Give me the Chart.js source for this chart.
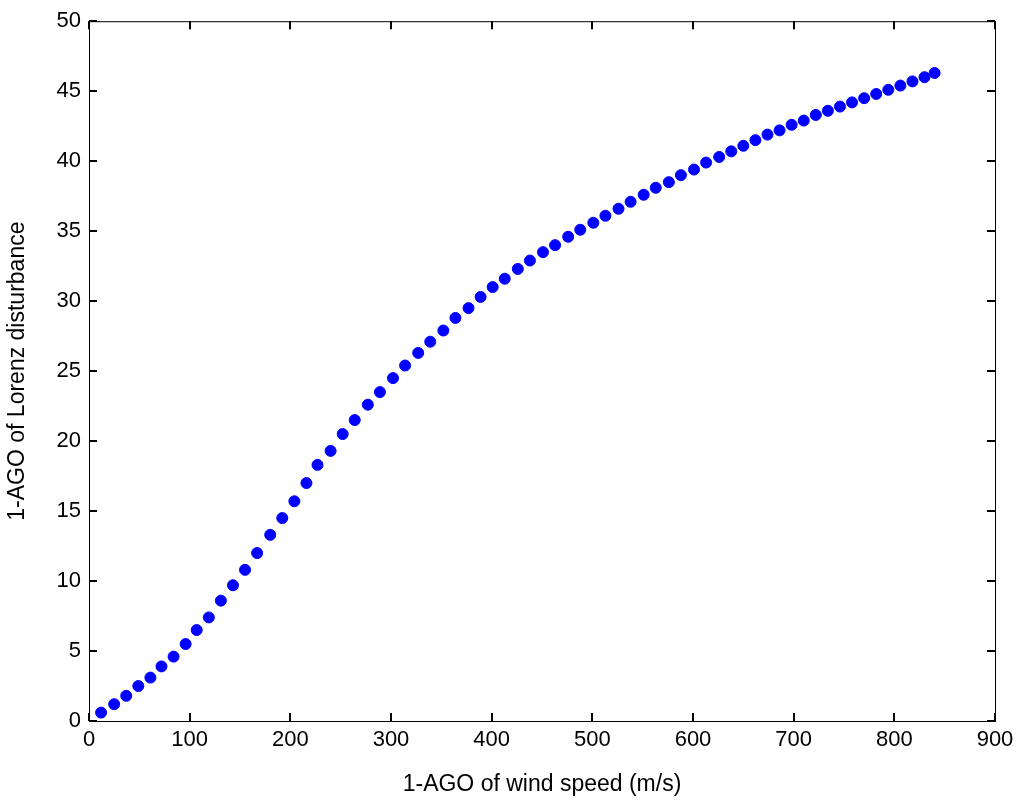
<!DOCTYPE html>
<html>
<head>
<meta charset="utf-8">
<script src="https://cdn.jsdelivr.net/npm/chart.js@4/dist/chart.umd.min.js"></script>
<style>
  html, body { margin: 0; padding: 0; background: #fff; }
  #wrap { width: 1024px; height: 802px; }
</style>
</head>
<body>
<div id="wrap"><canvas id="grafico"></canvas></div>
<script>
var xValues = [12, 25, 37, 49, 61, 72, 84, 96, 107, 119, 131, 143, 155, 167, 180, 192, 204, 216, 227, 240,
  252, 264, 277, 289, 302, 314, 327, 339, 352, 364, 377, 389, 401, 413, 426, 438, 451, 463, 476, 488,
  501, 513, 526, 538, 551, 563, 576, 588, 601, 613, 626, 638, 650, 662, 674, 686, 698, 710, 722, 734,
  746, 758, 770, 782, 794, 806, 818, 830, 840];
var yValues = [0.6, 1.2, 1.8, 2.5, 3.1, 3.9, 4.6, 5.5, 6.5, 7.4, 8.6, 9.7, 10.8, 12.0, 13.3, 14.5, 15.7, 17.0, 18.3, 19.3,
  20.5, 21.5, 22.6, 23.5, 24.5, 25.4, 26.3, 27.1, 27.9, 28.8, 29.5, 30.3, 31.0, 31.6, 32.3, 32.9, 33.5, 34.0, 34.6, 35.1,
  35.6, 36.1, 36.6, 37.1, 37.6, 38.1, 38.5, 39.0, 39.4, 39.9, 40.3, 40.7, 41.1, 41.5, 41.9, 42.2, 42.6, 42.9, 43.3, 43.6,
  43.9, 44.2, 44.5, 44.8, 45.1, 45.4, 45.7, 46.0, 46.3];
var xTicks = [0, 100, 200, 300, 400, 500, 600, 700, 800, 900];
var yTicks = [0, 5, 10, 15, 20, 25, 30, 35, 40, 45, 50];

var points = xValues.map(function (x, i) { return { x: x, y: yValues[i] }; });

// box around the plot with inward ticks on all four sides
var frame = {
  id: 'frame',
  afterDraw: function (chart) {
    var c = chart.ctx, a = chart.chartArea;
    var sx = chart.scales.x, sy = chart.scales.y;
    c.save();
    c.strokeStyle = '#000';
    c.lineWidth = 1;
    c.strokeRect(a.left + 0.5, a.top + 0.5, a.right - a.left, a.bottom - a.top);
    c.lineWidth = 2;
    c.beginPath();
    xTicks.forEach(function (v) {
      var p = Math.round(sx.getPixelForValue(v));
      c.moveTo(p, a.bottom); c.lineTo(p, a.bottom - 8);
      c.moveTo(p, a.top); c.lineTo(p, a.top + 8);
    });
    yTicks.forEach(function (v) {
      var p = Math.round(sy.getPixelForValue(v));
      c.moveTo(a.left, p); c.lineTo(a.left + 8, p);
      c.moveTo(a.right, p); c.lineTo(a.right - 8, p);
    });
    c.stroke();
    c.restore();
  }
};

var ctx = document.querySelector('#grafico').getContext('2d');
var chart = new Chart(ctx, {
  type: 'scatter',
  data: {
    datasets: [{
      data: points,
      backgroundColor: '#0000ff',
      borderColor: '#0000ff',
      pointRadius: 5.5,
      pointHoverRadius: 5.5
    }]
  },
  options: {
    responsive: true,
    maintainAspectRatio: false,
    animation: false,
    layout: { padding: { top: 15, right: 29, left: 0, bottom: 0 } },
    plugins: { legend: { display: false }, tooltip: { enabled: false } },
    scales: {
      x: {
        type: 'linear', min: 0, max: 900,
        afterBuildTicks: function (s) { s.ticks = xTicks.map(function (v) { return { value: v }; }); },
        afterFit: function (s) { s.height = 81; },
        grid: { display: false, drawTicks: false },
        border: { display: false },
        ticks: { color: '#000', padding: 6, maxRotation: 0, font: { family: 'Arial, Liberation Sans', size: 22 } },
        title: { display: true, text: '1-AGO of wind speed (m/s)', color: '#000', padding: { top: 0 },
          font: { family: 'Arial, Liberation Sans', size: 23 } }
      },
      y: {
        type: 'linear', min: 0, max: 50,
        afterBuildTicks: function (s) { s.ticks = yTicks.map(function (v) { return { value: v }; }); },
        afterFit: function (s) { s.width = 89; },
        grid: { display: false, drawTicks: false },
        border: { display: false },
        ticks: { color: '#000', padding: 8, font: { family: 'Arial, Liberation Sans', size: 22 } },
        title: { display: true, text: '1-AGO of Lorenz disturbance', color: '#000', padding: { bottom: 2 },
          font: { family: 'Arial, Liberation Sans', size: 23 } }
      }
    }
  },
  plugins: [frame]
});
</script>
</body>
</html>
